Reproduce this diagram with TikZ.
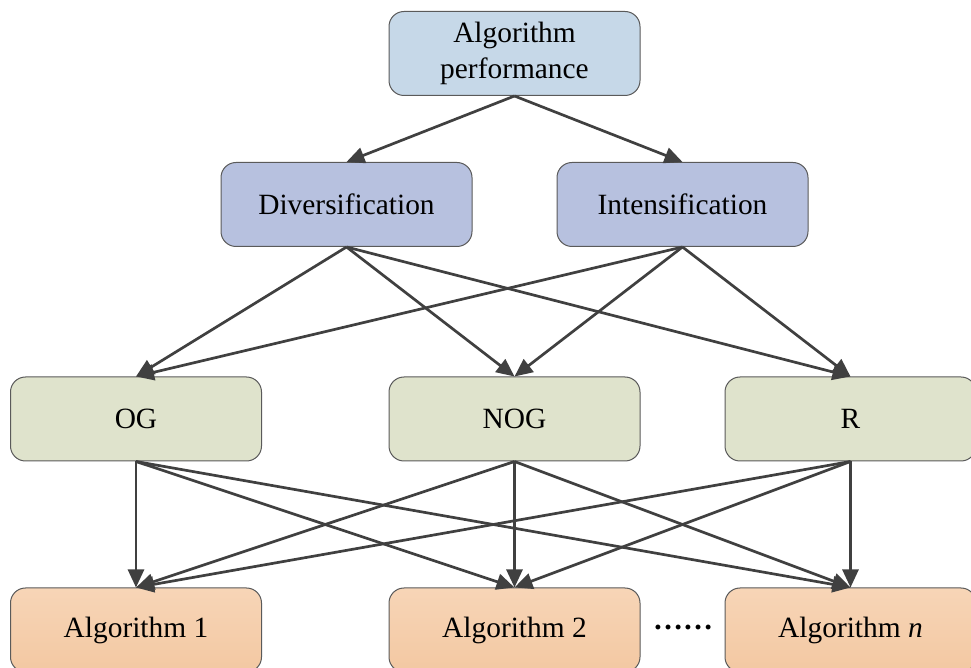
\documentclass[tikz,border=0pt]{standalone}
\usepackage{fontspec}
\setmainfont{Liberation Serif}
\usetikzlibrary{arrows.meta}
\definecolor{boxline}{HTML}{5A5A5A}
\definecolor{arrowc}{HTML}{404040}
\definecolor{topfill}{HTML}{C6D8E8}
\definecolor{midfill}{HTML}{B7C1DF}
\definecolor{critfill}{HTML}{DFE3CC}
\definecolor{algtop}{HTML}{F7D5B7}
\definecolor{algbot}{HTML}{F3C8A2}
\tikzset{
  box/.style={draw=boxline, line width=0.5pt, rounded corners=7.5pt,
    minimum width=125.5pt, minimum height=42pt, align=center,
    font=\fontsize{14.7}{18}\selectfont, inner sep=2pt},
  topbox/.style={box, fill=topfill},
  midbox/.style={box, fill=midfill},
  critbox/.style={box, fill=critfill},
  algbox/.style={box, top color=algtop, middle color=algtop, bottom color=algbot},
  link/.style={draw=arrowc, line width=1.35pt,
    -{Triangle[length=9pt,width=8pt]}}
}
\begin{document}
\begin{tikzpicture}[x=0.5pt,y=-0.5pt]
\useasboundingbox (0,0) rectangle (971,668);
% level 0
\node[topbox] (perf) at (514.5,53.5) {Algorithm\\performance};
% level 1
\node[midbox] (div) at (346.5,204.5) {Diversification};
\node[midbox] (int) at (682.5,204.5) {Intensification};
% level 2
\node[critbox] (og)  at (136,419) {OG};
\node[critbox] (nog) at (514.5,419) {NOG};
\node[critbox] (r)   at (850.5,419) {R};
% level 3
\node[algbox] (a1) at (136,630) {Algorithm 1};
\node[algbox] (a2) at (514.5,630) {Algorithm 2};
\node[algbox] (an) at (850.5,630) {Algorithm \textit{n}};
\node[font=\fontsize{15}{17}\selectfont\bfseries, inner sep=0pt] (dots) at (683,627) {……};
% connectors
\foreach \t in {div,int} \draw[link] (perf.south) -- (\t.north);
\foreach \s in {div,int}
  \foreach \t in {og,nog,r}
    \draw[link] (\s.south) -- (\t.north);
\foreach \s in {og,nog,r}
  \foreach \t in {a1,a2,an}
    \draw[link] (\s.south) -- (\t.north);
\end{tikzpicture}
\end{document}
